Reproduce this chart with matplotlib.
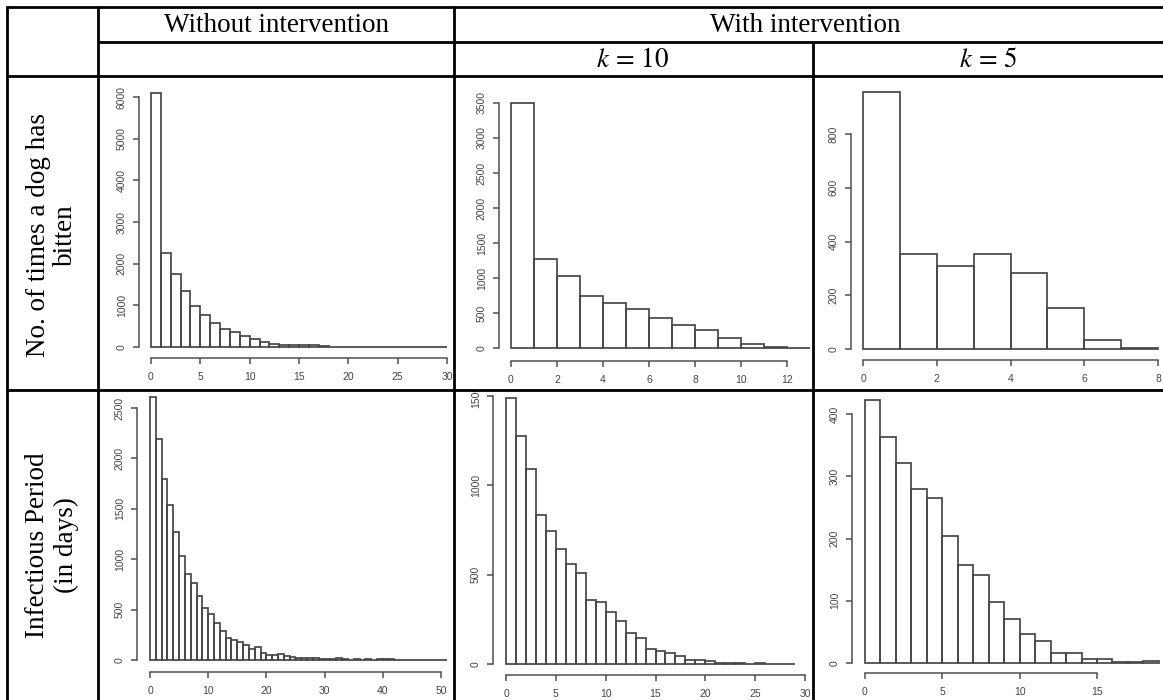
import matplotlib
matplotlib.use("Agg")
import matplotlib.pyplot as plt
import numpy as np
from matplotlib.lines import Line2D
from matplotlib.transforms import Bbox

# ---------------- data (histogram counts, unit-width bins starting at 0) ----------------
bites_without = [6105, 2266, 1756, 1333, 990, 774, 575, 439, 367, 255,
                 200, 120, 80, 56, 48, 48, 40, 16, 10, 10,
                 0, 0, 0, 0, 0, 0, 0, 0, 0, 0]
bites_k10 = [3500, 1277, 1030, 736, 650, 556, 423, 328, 252, 138, 57, 19, 0]
bites_k5 = [957, 355, 310, 355, 281, 152, 32, 4]
inf_without = [2605, 2197, 1799, 1539, 1266, 1030, 855, 763, 638, 516,
               454, 368, 289, 220, 197, 174, 145, 112, 132, 66,
               49, 49, 59, 43, 33, 20, 20, 20, 20, 10,
               10, 8, 18, 8, 3, 8, 3, 8, 0, 8,
               8, 8, 0, 0, 0, 0, 0, 0, 0, 0, 0]
inf_k10 = [1490, 1274, 1092, 833, 745, 645, 557, 510, 360, 345,
           293, 238, 176, 146, 86, 73, 60, 45, 22, 22,
           17, 7, 7, 7, 0, 7, 0, 0, 0]
inf_k5 = [422, 363, 321, 279, 265, 204, 157, 142, 98, 70,
          47, 35, 16, 16, 6, 6, 2, 2, 3]

xticks_bw = [0, 5, 10, 15, 20, 25, 30]
xticks_b10 = [0, 2, 4, 6, 8, 10, 12]
xticks_b5 = [0, 2, 4, 6, 8]
xticks_iw = [0, 10, 20, 30, 40, 50]
xticks_i10 = [0, 5, 10, 15, 20, 25, 30]
xticks_i5 = [0, 5, 10, 15]
yticks_bw = [0, 1000, 2000, 3000, 4000, 5000, 6000]
yticks_b10 = [0, 500, 1000, 1500, 2000, 2500, 3000, 3500]
yticks_b5 = [0, 200, 400, 600, 800]
yticks_iw = [0, 500, 1000, 1500, 2000, 2500]
yticks_i10 = [0, 500, 1000, 1500]
yticks_i5 = [0, 100, 200, 300, 400]

col_headers = ["Without intervention", "With intervention"]
sub_headers = [r"$k\,=\,10$", r"$k\,=\,5$"]
row_labels = ["No. of times a dog has\nbitten", "Infectious Period\n(in days)"]

# ---------------- figure ----------------
W, H, DPI = 1163, 700, 100
fig = plt.figure(figsize=(W / DPI, H / DPI), dpi=DPI)
fig.patch.set_facecolor("white")
plt.rcParams["mathtext.fontset"] = "stix"

BAR = "#474747"
AXC = "#505050"
TXT = "#454545"


def fy(y):
    return 1 - y / H


def panel(counts, xticks, yticks, x0px, x1px, y0px, y1px, yaxis_px, xaxis_px, cell):
    xt1, yt1 = xticks[-1], yticks[-1]
    sx = (x1px - x0px) / xt1
    sy = (y0px - y1px) / yt1
    nb = len(counts)
    xhi = max(nb, xt1)
    yhi = max(max(counts), yt1)
    left, right = x0px, x0px + xhi * sx
    bot, top = y0px, y0px - yhi * sy
    ax = fig.add_axes([left / W, fy(bot), (right - left) / W, (bot - top) / H])
    ax.set_xlim(0, xhi)
    ax.set_ylim(0, yhi)
    ax.patch.set_visible(False)
    ax.bar(np.arange(nb), counts, width=1, align="edge", fill=False,
           edgecolor=BAR, linewidth=1.25, clip_on=False)
    for s in ["top", "right"]:
        ax.spines[s].set_visible(False)
    ax.spines["left"].set_position(("outward", (left - yaxis_px) * 72 / DPI))
    ax.spines["bottom"].set_position(("outward", (xaxis_px - bot) * 72 / DPI))
    ax.spines["left"].set_bounds(yticks[0], yticks[-1])
    ax.spines["bottom"].set_bounds(xticks[0], xticks[-1])
    for s in ["left", "bottom"]:
        ax.spines[s].set_color(AXC)
        ax.spines[s].set_linewidth(1.1)
    ax.set_xticks(xticks)
    ax.set_xticklabels([str(v) for v in xticks])
    ax.set_yticks(yticks)
    ax.set_yticklabels([str(v) for v in yticks], rotation=90, va="center", ha="right")
    ax.tick_params(direction="out", length=4.3, width=1.1, color=AXC,
                   labelcolor=TXT, labelsize=7.5)
    ax.tick_params(axis="x", pad=6.0)
    ax.tick_params(axis="y", pad=4.5)
    for lbl in ax.get_xticklabels() + ax.get_yticklabels():
        lbl.set_fontfamily("Liberation Sans")
    cx0, cy0, cx1, cy1 = cell
    bb = Bbox.from_extents(cx0, H - cy1, cx1, H - cy0)
    for lbl in ax.get_yticklabels() + ax.get_xticklabels():
        lbl.set_clip_box(bb)
        lbl.set_clip_on(True)
    return ax


# row 1
panel(bites_without, xticks_bw, yticks_bw, 151, 447, 347, 97, 139, 358, (98, 76, 454, 390))
panel(bites_k10, xticks_b10, yticks_b10, 511, 787, 348, 103, 499, 361, (454, 76, 813, 390))
panel(bites_k5, xticks_b5, yticks_b5, 863, 1158, 349, 134, 851, 360, (813, 76, 1163, 390))
# row 2
panel(inf_without, xticks_iw, yticks_iw, 150, 441, 660, 408, 137, 672, (98, 390, 454, 700))
panel(inf_k10, xticks_i10, yticks_i10, 506, 805, 664, 396, 493, 675, (454, 390, 813, 700))
panel(inf_k5, xticks_i5, yticks_i5, 865, 1097, 663, 414, 852, 673, (813, 390, 1163, 700))

# ---------------- table grid ----------------
def hline(y, x0, x1):
    fig.add_artist(Line2D([x0 / W, x1 / W], [fy(y), fy(y)], transform=fig.transFigure,
                          color="black", lw=2.0, solid_capstyle="butt", zorder=10))


def vline(x, y0, y1):
    fig.add_artist(Line2D([x / W, x / W], [fy(y0), fy(y1)], transform=fig.transFigure,
                          color="black", lw=2.0, solid_capstyle="butt", zorder=10))


hline(7, 6, W)
hline(42, 98, W)
hline(76, 6, W)
hline(390, 6, W)
vline(7, 6, H)
vline(98, 6, H)
vline(454, 6, H)
vline(813, 42, H)

serif = "Liberation Serif"
fig.text(276 / W, fy(25), col_headers[0], ha="center", va="center", fontsize=19.5, family=serif)
fig.text(805 / W, fy(25), col_headers[1], ha="center", va="center", fontsize=19.5, family=serif)
fig.text(633 / W, fy(60), sub_headers[0], ha="center", va="center", fontsize=19.5)
fig.text(988 / W, fy(60), sub_headers[1], ha="center", va="center", fontsize=19.5)
fig.text(52 / W, fy(235), row_labels[0], ha="center", va="center", rotation=90,
         fontsize=19.5, family=serif, multialignment="center", linespacing=1.15)
fig.text(52 / W, fy(545), row_labels[1], ha="center", va="center", rotation=90,
         fontsize=19.5, family=serif, multialignment="center", linespacing=1.15)

fig.savefig("out.png", dpi=DPI, facecolor="white")
